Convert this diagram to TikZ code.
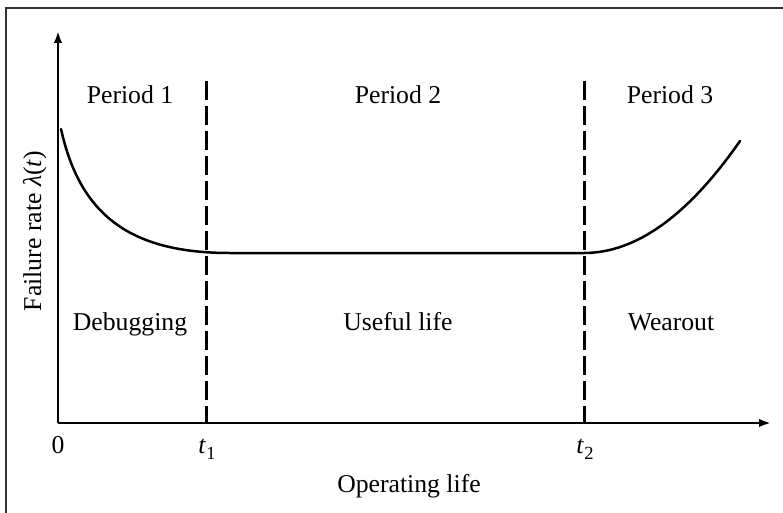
\documentclass[tikz,border=0pt]{standalone}
\usepackage{fontspec}
\setmainfont{Liberation Serif}
\usetikzlibrary{arrows.meta}
\newcommand{\tsub}[1]{\textit{t}\kern0.5pt\raisebox{-6pt}{\fontsize{18.5}{20}\selectfont #1}}
\begin{document}
\begin{tikzpicture}[x=1pt,y=-1pt,
  axis/.style={line width=2.6pt,-{Latex[length=12pt,width=8.5pt]}},
  curve/.style={line width=2.5pt},
  divider/.style={line width=3pt,dash pattern=on 19pt off 6pt},
  lbl/.style={font=\fontsize{25.7}{30}\selectfont,anchor=base,inner sep=0pt},
  frame/.style={line width=1.6pt,draw=black!80}]
\useasboundingbox (0,0) rectangle (783,513);
% outer frame (only its top and left sides fall inside the page)
\draw[frame] (6,530) -- (6,8) -- (800,8);

% axes
\coordinate (O) at (58,423);
\coordinate (ytip) at (58,31);
\coordinate (xtip) at (771,423);
\draw[axis] (O) -- (ytip);
\draw[axis] (O) -- (xtip);

% period boundaries
\coordinate (t1top) at (206,81);
\coordinate (t1bot) at (206,423);
\coordinate (t2top) at (584,81);
\coordinate (t2bot) at (584,423);
\draw[divider] (t1top) -- (t1bot);
\draw[divider] (t2top) -- (t2bot);

% bathtub curve: early failures, constant rate, parabolic wear-out
\coordinate (start) at (61,129);
\coordinate (flatA) at (230,253);
\coordinate (flatB) at (584,253);
\coordinate (wearEnd) at (740,141);
\draw[curve,line cap=round] (start) .. controls (80,215) and (130,253) .. (flatA)
  -- (flatB) .. controls (636,253) and (688,215.7) .. (wearEnd);

% labels
\node[lbl] (p1) at (130,104) {Period 1};
\node[lbl] (p2) at (398,104) {Period 2};
\node[lbl] (p3) at (670,104) {Period 3};
\node[lbl] (d1) at (130,330) {Debugging};
\node[lbl] (d2) at (398,330) {Useful life};
\node[lbl] (d3) at (671,330) {Wearout};
\node[lbl] (zero) at (58,453) {0};
\node[lbl] (lt1) at (207,453) {\tsub{1}};
\node[lbl] (lt2) at (585,453) {\tsub{2}};
\node[lbl] (xlab) at (409,492) {Operating life};
\node[lbl,rotate=90] (ylab) at (41,231) {Failure rate \textit{λ}(\textit{t})};
\end{tikzpicture}
\end{document}
